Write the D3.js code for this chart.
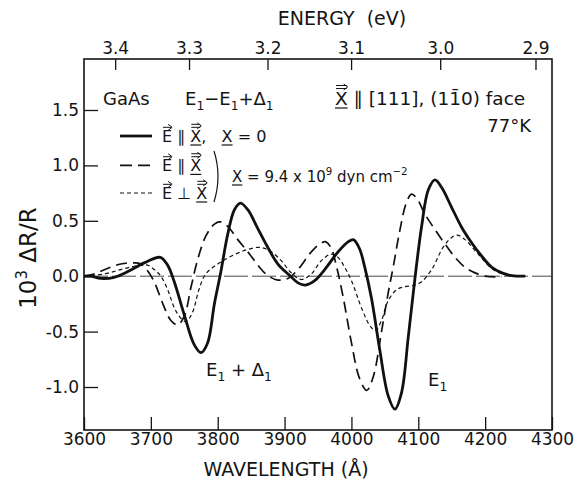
<!DOCTYPE html>
<html>
<head>
<meta charset="utf-8">
<script src="https://cdn.jsdelivr.net/npm/d3@7"></script>
<style>
  body { margin: 0; background: #fff; }
  svg text { font-family: "DejaVu Sans", sans-serif; fill: #141414; white-space: pre; }
</style>
</head>
<body>
<svg id="chart" width="581" height="482"></svg>
<script>
// E || X, zero stress
const lambdaPar0 = [3600, 3610, 3625, 3645, 3665, 3690, 3714, 3725, 3735, 3750, 3765, 3775, 3785, 3795, 3805, 3815, 3825, 3834, 3845, 3860, 3874, 3890, 3909, 3920, 3931, 3945, 3960, 3980, 3995, 4003, 4012, 4020, 4030, 4042, 4055, 4065, 4075, 4085, 4095, 4105, 4115, 4125, 4135, 4150, 4165, 4180, 4195, 4210, 4225, 4240, 4260];
const dRPar0 = [0.0, 0.0, -0.02, -0.01, 0.04, 0.12, 0.17, 0.10, -0.05, -0.35, -0.62, -0.69, -0.60, -0.25, 0.05, 0.38, 0.60, 0.66, 0.60, 0.43, 0.27, 0.11, 0.0, -0.06, -0.08, -0.04, 0.06, 0.22, 0.31, 0.33, 0.25, 0.08, -0.20, -0.65, -1.08, -1.20, -1.05, -0.55, -0.02, 0.45, 0.78, 0.87, 0.80, 0.62, 0.44, 0.30, 0.18, 0.08, 0.03, 0.005, 0.0];

// E || X, X = 9.4e9 dyn/cm2
const lambdaParX = [3600, 3615, 3635, 3655, 3675, 3685, 3695, 3705, 3718, 3730, 3740, 3750, 3760, 3770, 3782, 3795, 3804, 3815, 3830, 3845, 3860, 3874, 3890, 3905, 3920, 3940, 3955, 3962, 3970, 3978, 3988, 4000, 4012, 4023, 4033, 4045, 4055, 4063, 4072, 4082, 4090, 4098, 4110, 4125, 4140, 4155, 4170, 4185, 4200, 4225];
const dRParX = [0.0, 0.02, 0.07, 0.11, 0.12, 0.11, 0.05, -0.05, -0.25, -0.40, -0.44, -0.36, -0.10, 0.15, 0.36, 0.47, 0.49, 0.45, 0.33, 0.22, 0.10, 0.01, -0.035, -0.02, 0.06, 0.22, 0.30, 0.31, 0.25, 0.08, -0.20, -0.60, -0.92, -1.03, -0.90, -0.50, -0.15, 0.10, 0.40, 0.66, 0.74, 0.70, 0.56, 0.42, 0.29, 0.17, 0.08, 0.03, 0.0, -0.005];

// E perp X, X = 9.4e9 dyn/cm2
const lambdaPerpX = [3600, 3630, 3655, 3675, 3695, 3705, 3715, 3725, 3738, 3752, 3762, 3772, 3782, 3800, 3820, 3844, 3864, 3880, 3895, 3910, 3925, 3940, 3955, 3970, 3980, 3990, 4000, 4016, 4028, 4036, 4045, 4055, 4068, 4080, 4095, 4105, 4120, 4138, 4150, 4158, 4170, 4188, 4212, 4230, 4245];
const dRPerpX = [0.0, 0.02, 0.06, 0.09, 0.10, 0.06, 0.0, -0.12, -0.32, -0.41, -0.33, -0.12, 0.02, 0.11, 0.18, 0.24, 0.26, 0.22, 0.14, 0.03, -0.03, 0.02, 0.14, 0.20, 0.17, 0.08, -0.04, -0.30, -0.45, -0.49, -0.40, -0.22, -0.12, -0.095, -0.08, -0.05, 0.06, 0.27, 0.35, 0.37, 0.33, 0.21, 0.06, 0.015, 0.0];

const wavelengthTicks = [3600, 3700, 3800, 3900, 4000, 4100, 4200, 4300];
const energyTicks = [3.4, 3.3, 3.2, 3.1, 3.0, 2.9];
const dRTicks = [-1.0, -0.5, 0.0, 0.5, 1.0, 1.5];
const HC = 12398.4; // eV * Angstrom

const svg = d3.select("#chart");
const plotLeft = 84, plotRight = 552, plotTop = 59, plotBottom = 430;

const x = d3.scaleLinear().domain([3600, 4300]).range([plotLeft, plotRight]);
const y = d3.scaleLinear().domain([-1.0, 1.5]).range([387, 110]);

// axes, ticks pointing inward
const bottomAxis = d3.axisBottom(x).tickValues(wavelengthTicks)
  .tickSize(-13).tickSizeOuter(0).tickPadding(3).tickFormat(d3.format("d"));
const topAxis = d3.axisTop(x).tickValues(energyTicks.map(e => HC / e))
  .tickSize(-11).tickSizeOuter(0).tickPadding(5)
  .tickFormat(w => (HC / w).toFixed(1));
const leftAxis = d3.axisLeft(y).tickValues(dRTicks)
  .tickSize(-14).tickSizeOuter(0).tickPadding(5)
  .tickFormat(d => d.toFixed(1));

function styleAxis(g) {
  g.select(".domain").remove();
  g.selectAll("line").attr("stroke", "#141414").attr("stroke-width", 1.3);
  g.selectAll("text").style("font-size", "17px").style("font-family", "DejaVu Sans")
    .attr("fill", "#141414");
}

svg.append("g").attr("transform", `translate(0,${plotBottom})`).call(bottomAxis).call(styleAxis);
svg.append("g").attr("transform", `translate(0,${plotTop})`).call(topAxis).call(styleAxis);
svg.append("g").attr("transform", `translate(${plotLeft},0)`).call(leftAxis).call(styleAxis);

svg.append("rect")
  .attr("x", plotLeft).attr("y", plotTop)
  .attr("width", plotRight - plotLeft).attr("height", plotBottom - plotTop)
  .attr("fill", "none").attr("stroke", "#141414").attr("stroke-width", 1.6);

// axis titles
svg.append("text").attr("x", 342).attr("y", 25).attr("text-anchor", "middle")
  .style("font-size", "19px").text("ENERGY  (eV)");
svg.append("text").attr("x", 286).attr("y", 476).attr("text-anchor", "middle")
  .style("font-size", "19px").text("WAVELENGTH (Å)");
const yTitle = svg.append("text")
  .attr("transform", "translate(36,258) rotate(-90)")
  .attr("text-anchor", "middle").style("font-size", "23px");
yTitle.append("tspan").text("10");
yTitle.append("tspan").attr("dy", -9).style("font-size", "15px").text("3");
yTitle.append("tspan").attr("dy", 9).text(" ΔR/R");

// zero line
svg.append("line")
  .attr("x1", plotLeft).attr("x2", plotRight).attr("y1", y(0)).attr("y2", y(0))
  .attr("stroke", "#333").attr("stroke-width", 0.9).attr("stroke-dasharray", "24,4");

// curves
const line = d3.line().x(d => x(d[0])).y(d => y(d[1])).curve(d3.curveCatmullRom.alpha(0.5));
const series = [
  { xs: lambdaPar0, ys: dRPar0, width: 2.8, dash: null },
  { xs: lambdaParX, ys: dRParX, width: 1.7, dash: "11,6" },
  { xs: lambdaPerpX, ys: dRPerpX, width: 1.2, dash: "4,3" }
];
series.forEach(s => {
  svg.append("path")
    .datum(d3.zip(s.xs, s.ys))
    .attr("d", line)
    .attr("fill", "none")
    .attr("stroke", "#111")
    .attr("stroke-width", s.width)
    .attr("stroke-dasharray", s.dash)
    .attr("stroke-linejoin", "round");
});

// text with vector arrows, underlines, sub/superscripts
function richText(g, x0, y0, parts, size) {
  let cx = x0;
  parts.forEach(p => {
    const fs = (p.sub || p.sup) ? size * 0.68 : size;
    const yy = y0 + (p.sub ? size * 0.3 : 0) - (p.sup ? size * 0.45 : 0);
    const t = g.append("text").attr("x", cx).attr("y", yy)
      .style("font-size", fs + "px").text(p.t);
    const w = t.node().getComputedTextLength();
    const capTop = y0 - size * 0.73;
    if (p.arrows) {
      for (let i = 0; i < p.arrows; i++) {
        const ay = capTop - 3 - i * 3;
        g.append("line").attr("x1", cx + 1).attr("x2", cx + w - 1)
          .attr("y1", ay).attr("y2", ay).attr("stroke", "#141414").attr("stroke-width", 1);
      }
      const ay = capTop - 3 - (p.arrows - 1) * 1.5;
      g.append("path")
        .attr("d", `M${cx + w - 4},${ay - 3}L${cx + w},${ay}L${cx + w - 4},${ay + 3}`)
        .attr("fill", "none").attr("stroke", "#141414").attr("stroke-width", 1);
    }
    if (p.under) {
      g.append("line").attr("x1", cx).attr("x2", cx + w)
        .attr("y1", y0 + 3).attr("y2", y0 + 3).attr("stroke", "#141414").attr("stroke-width", 1.2);
    }
    cx += w;
  });
  return cx;
}

const ann = svg.append("g");
richText(ann, 103, 105, [{ t: "GaAs" }], 18);
richText(ann, 185, 105, [
  { t: "E" }, { t: "1", sub: true }, { t: "−E" }, { t: "1", sub: true },
  { t: "+Δ" }, { t: "1", sub: true }
], 18);
richText(ann, 335, 105, [
  { t: "X", arrows: 2, under: true }, { t: " ∥ [111], (11̄0) face" }
], 18.5);
ann.append("text").attr("x", 531).attr("y", 132).attr("text-anchor", "end")
  .style("font-size", "18px").text("77°K");

// legend samples
const legendRows = [
  { y: 136, width: 2.8, dash: null },
  { y: y(1.0), width: 1.7, dash: "12,6" },
  { y: 193, width: 1.2, dash: "4,3" }
];
legendRows.forEach(r => {
  ann.append("line").attr("x1", 120).attr("x2", 152).attr("y1", r.y).attr("y2", r.y)
    .attr("stroke", "#111").attr("stroke-width", r.width).attr("stroke-dasharray", r.dash);
});
richText(ann, 162, 142, [
  { t: "E", arrows: 1 }, { t: " ∥ " }, { t: "X", arrows: 2, under: true }, { t: ",   " },
  { t: "X", under: true }, { t: " = 0" }
], 16);
richText(ann, 162, legendRows[1].y + 6, [
  { t: "E", arrows: 1 }, { t: " ∥ " }, { t: "X", arrows: 2, under: true }
], 16);
richText(ann, 162, 199, [
  { t: "E", arrows: 1 }, { t: " ⊥ " }, { t: "X", arrows: 2, under: true }
], 16);
ann.append("path")
  .attr("d", "M214,151 Q222,176 214,202")
  .attr("fill", "none").attr("stroke", "#141414").attr("stroke-width", 1.2);
richText(ann, 232, 182, [
  { t: "X", under: true }, { t: " = 9.4 x 10" }, { t: "9", sup: true },
  { t: " dyn cm" }, { t: "−2", sup: true }
], 15);

// peak labels
richText(ann, 206, 376, [
  { t: "E" }, { t: "1", sub: true }, { t: " + Δ" }, { t: "1", sub: true }
], 18);
richText(ann, 428, 386, [{ t: "E" }, { t: "1", sub: true }], 18);
</script>
</body>
</html>
